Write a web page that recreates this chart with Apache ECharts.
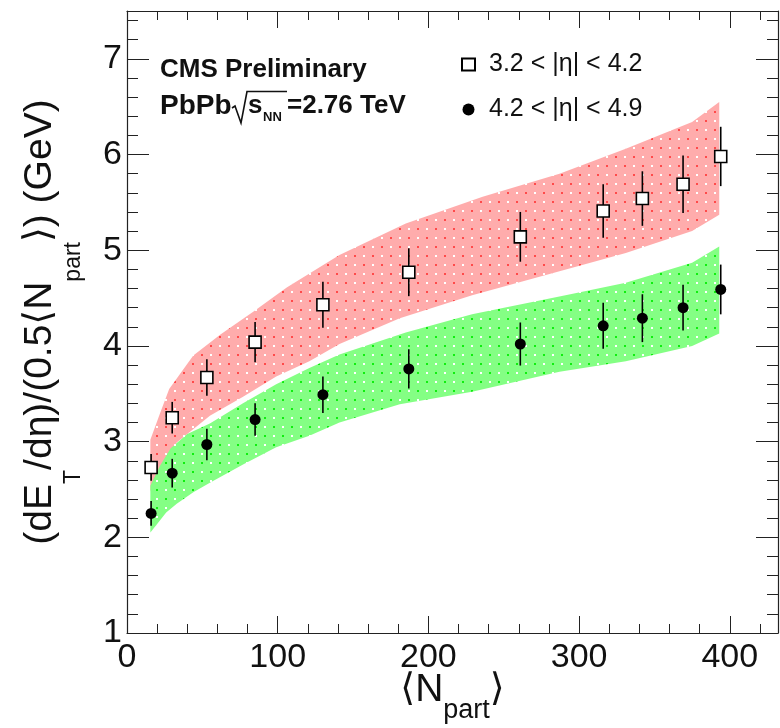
<!DOCTYPE html>
<html>
<head>
<meta charset="utf-8">
<script src="https://cdn.jsdelivr.net/npm/echarts@6/dist/echarts.min.js"></script>
<style>
  html, body { margin: 0; padding: 0; background: #fff; }
  #chart { width: 780px; height: 728px; }
</style>
</head>
<body>
<div id="chart"></div>
<script>
// Centrality points: mean number of participants
const nPart = [16, 30, 53, 85, 130, 187, 261, 316, 342, 369, 394];

// 3.2 < |eta| < 4.2 (open squares) and stat+syst errors
const etMid = [2.73, 3.25, 3.67, 4.04, 4.43, 4.77, 5.14, 5.41, 5.54, 5.69, 5.98];
const etMidErr = [0.14, 0.165, 0.19, 0.21, 0.24, 0.25, 0.26, 0.28, 0.285, 0.30, 0.31];

// 4.2 < |eta| < 4.9 (full circles) and errors
const etFwd = [2.25, 2.67, 2.97, 3.23, 3.49, 3.76, 4.02, 4.21, 4.29, 4.40, 4.59];
const etFwdErr = [0.13, 0.15, 0.165, 0.17, 0.19, 0.205, 0.225, 0.24, 0.25, 0.24, 0.26];

// Model bands (upper / lower edges) for each eta range
const redHiN = [15.5, 22, 28, 44, 62, 84, 106, 141, 185, 236, 287, 331, 375, 393];
const redHiV = [3.02, 3.30, 3.55, 3.90, 4.12, 4.36, 4.61, 4.95, 5.28, 5.56, 5.80, 6.06, 6.34, 6.55];
const redLoN = [15.5, 22, 33, 55, 77, 99, 121, 141, 181, 229, 287, 331, 375, 393];
const redLoV = [2.48, 2.74, 2.99, 3.27, 3.47, 3.68, 3.84, 4.02, 4.29, 4.53, 4.78, 4.97, 5.20, 5.37];
const greenHiN = [15.5, 22, 29, 40, 55, 77, 99, 121, 141, 185, 229, 291, 331, 375, 393];
const greenHiV = [2.54, 2.75, 2.93, 3.08, 3.19, 3.40, 3.60, 3.77, 3.91, 4.14, 4.33, 4.53, 4.66, 4.87, 5.04];
const greenLoN = [15.5, 20, 26, 33, 44, 55, 77, 99, 121, 141, 181, 229, 287, 331, 375, 393];
const greenLoV = [2.05, 2.14, 2.26, 2.35, 2.47, 2.57, 2.76, 2.94, 3.06, 3.20, 3.39, 3.52, 3.73, 3.84, 4.00, 4.13];

const labelMid = '3.2 < |η| < 4.2';
const labelFwd = '4.2 < |η| < 4.9';

const FONT = '"Liberation Sans", Arial, Helvetica, sans-serif';
const AXIS = '#222';

// dotted fill: light base colour with a checkerboard of white and coloured dots
function dotPattern(base, dot) {
  const s = 9;
  const c = document.createElement('canvas');
  c.width = 2 * s; c.height = 2 * s;
  const g = c.getContext('2d');
  g.fillStyle = base; g.fillRect(0, 0, 2 * s, 2 * s);
  g.fillStyle = '#ffffff';
  g.fillRect(3, 3, 2, 2); g.fillRect(3 + s, 3 + s, 2, 2);
  g.fillStyle = dot;
  g.fillRect(3 + s, 3, 2, 2); g.fillRect(3, 3 + s, 2, 2);
  return c;
}

function bandPolygon(hiN, hiV, loN, loV) {
  const pts = hiN.map((n, i) => [n, hiV[i]]);
  for (let i = loN.length - 1; i >= 0; i--) pts.push([loN[i], loV[i]]);
  return pts;
}

function bandSeries(pts, base, dot) {
  const pat = { image: dotPattern(base, dot), repeat: 'repeat' };
  return {
    type: 'custom', coordinateSystem: 'cartesian2d', silent: true, z: 1,
    xAxisIndex: 0, yAxisIndex: 0,
    data: [0],
    renderItem: (params, api) => ({
      type: 'polygon',
      shape: { points: pts.map(p => api.coord(p)) },
      style: { fill: pat, stroke: null }
    })
  };
}

function errorSeries(xs, ys, es) {
  return {
    type: 'custom', coordinateSystem: 'cartesian2d', silent: true, z: 3,
    xAxisIndex: 0, yAxisIndex: 0,
    data: xs.map((x, i) => [x, ys[i], es[i]]),
    encode: { x: 0, y: 1 },
    renderItem: (params, api) => {
      const x = api.value(0), y = api.value(1), e = api.value(2);
      const a = api.coord([x, y - e]), b = api.coord([x, y + e]);
      return {
        type: 'line',
        shape: { x1: a[0], y1: a[1], x2: b[0], y2: b[1] },
        style: { stroke: '#000', lineWidth: 1.6 }
      };
    }
  };
}

// grid 0 carries the data and the long ticks, grid 1 (same rectangle) only the short ticks
function xAxisDef(grid, pos, interval, len, major) {
  return {
    gridIndex: grid, type: 'value', position: pos, min: 0, max: 432, interval: interval,
    axisLine: { show: major, onZero: false, lineStyle: { color: AXIS, width: 1.2 } },
    axisTick: { show: true, inside: true, length: len, lineStyle: { color: AXIS, width: 1 } },
    axisLabel: { show: false },
    splitLine: { show: false }
  };
}
function yAxisDef(grid, pos, interval, len, major) {
  return {
    gridIndex: grid, type: 'value', position: pos, min: 1, max: 7.5, interval: interval,
    axisLine: { show: major, onZero: false, lineStyle: { color: AXIS, width: 1.2 } },
    axisTick: { show: true, inside: true, length: len, lineStyle: { color: AXIS, width: 1 } },
    axisLabel: { show: false },
    splitLine: { show: false }
  };
}

const xMain = xAxisDef(0, 'bottom', 100, 17, true);
xMain.axisLabel = { show: true, fontSize: 34, fontFamily: FONT, color: '#111', margin: 8, showMaxLabel: false };
xMain.name = '{br|⟨}{n|N}{s|part}{br|⟩}';
xMain.nameLocation = 'middle';
xMain.nameGap = 34;
xMain.nameMoveOverlap = false;
xMain.nameTextStyle = {
  color: '#111', fontFamily: FONT,
  rich: {
    br: { fontSize: 38, fontFamily: '"DejaVu Sans", sans-serif', lineHeight: 46, color: '#111' },
    n: { fontSize: 39, fontFamily: FONT, lineHeight: 46, color: '#111' },
    s: { fontSize: 27, fontFamily: FONT, lineHeight: 46, padding: [42, 0, 0, 0], color: '#111' }
  }
};

const yMain = yAxisDef(0, 'left', 1, 22, true);
yMain.axisLabel = { show: true, fontSize: 34, fontFamily: FONT, color: '#111', margin: 5, showMaxLabel: false };
yMain.name = '{m|(dE}{s|T}{m|/dη)/(0.5}{br|⟨}{m|N}{s|part}{br|⟩}{m|) (GeV)}';
yMain.nameLocation = 'middle';
yMain.nameRotate = 90;
yMain.nameGap = 65;
yMain.nameTextStyle = {
  color: '#111', fontFamily: FONT,
  rich: {
    m: { fontSize: 39, fontFamily: FONT, lineHeight: 44, color: '#111' },
    br: { fontSize: 38, fontFamily: '"DejaVu Sans", sans-serif', lineHeight: 44, color: '#111' },
    s: { fontSize: 23, fontFamily: FONT, lineHeight: 44, padding: [68, 0, 0, 0], color: '#111' }
  }
};

const gridRect = { left: 127, right: 2, top: 11, bottom: 95, containLabel: false, outerBoundsMode: 'none' };

const option = {
  animation: false,
  backgroundColor: '#fff',
  grid: [Object.assign({}, gridRect), Object.assign({}, gridRect)],
  xAxis: [
    xMain,
    xAxisDef(0, 'top', 100, 17, true),
    xAxisDef(1, 'bottom', 20, 9, false),
    xAxisDef(1, 'top', 20, 9, false)
  ],
  yAxis: [
    yMain,
    yAxisDef(0, 'right', 1, 22, true),
    yAxisDef(1, 'left', 0.2, 11, false),
    yAxisDef(1, 'right', 0.2, 11, false)
  ],
  legend: {
    orient: 'vertical', left: 456, top: 47, itemGap: 20,
    itemWidth: 13, itemHeight: 12,
    textStyle: { fontSize: 25, fontFamily: FONT, color: '#111', lineHeight: 24, padding: [0, 0, 0, 9] },
    data: [
      { name: labelMid, icon: 'rect' },
      { name: labelFwd, icon: 'circle' }
    ]
  },
  graphic: [
    { type: 'text', left: 160, top: 57, style: { text: 'CMS Preliminary', font: 'bold 26px ' + FONT, fill: '#111' } },
    { type: 'text', x: 160, y: 106, style: { text: 'PbPb', font: 'bold 28px ' + FONT, fill: '#111', verticalAlign: 'middle' } },
    { type: 'polyline', shape: { points: [[232, 108], [235, 106], [241, 123], [247, 91.5], [287, 91.5]] }, style: { stroke: '#111', lineWidth: 1.6, fill: null } },
    { type: 'text', x: 248, y: 106, style: { text: 's', font: 'bold 26px ' + FONT, fill: '#111', verticalAlign: 'middle' } },
    { type: 'text', x: 263, y: 117, style: { text: 'NN', font: 'bold 13px ' + FONT, fill: '#111', verticalAlign: 'middle' } },
    { type: 'text', x: 287, y: 106, style: { text: '=2.76 TeV', font: 'bold 26px ' + FONT, fill: '#111', verticalAlign: 'middle' } }
  ],
  series: [
    bandSeries(bandPolygon(redHiN, redHiV, redLoN, redLoV), '#ffacac', '#ff4a4a'),
    bandSeries(bandPolygon(greenHiN, greenHiV, greenLoN, greenLoV), '#84ff84', '#10ee10'),
    errorSeries(nPart, etMid, etMidErr),
    errorSeries(nPart, etFwd, etFwdErr),
    {
      name: labelMid, type: 'scatter', z: 5, xAxisIndex: 0, yAxisIndex: 0,
      symbol: 'rect', symbolSize: 12,
      itemStyle: { color: '#fff', borderColor: '#000', borderWidth: 1.6, opacity: 1 },
      data: nPart.map((n, i) => [n, etMid[i]])
    },
    {
      name: labelFwd, type: 'scatter', z: 5, xAxisIndex: 0, yAxisIndex: 0,
      symbol: 'circle', symbolSize: 11,
      itemStyle: { color: '#000', opacity: 1 },
      data: nPart.map((n, i) => [n, etFwd[i]])
    }
  ]
};

const chart = echarts.init(document.getElementById('chart'), null, { renderer: 'canvas' });
chart.setOption(option);
</script>
</body>
</html>
